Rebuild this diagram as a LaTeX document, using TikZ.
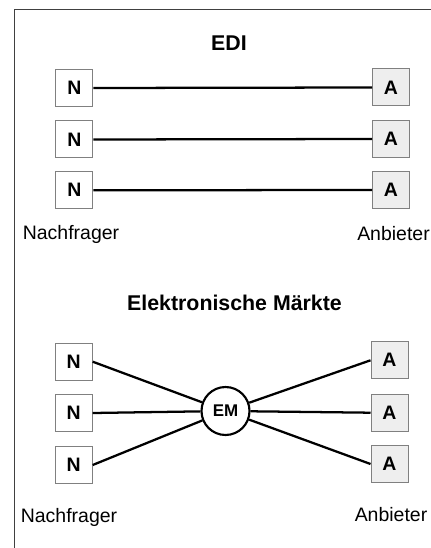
\documentclass[tikz,border=0pt]{standalone}
\usepackage{fontspec}
\setmainfont{Liberation Sans}
\usepackage{xcolor}
\definecolor{boxgray}{HTML}{808080}
\definecolor{afill}{HTML}{EEEEEE}
\definecolor{framegray}{HTML}{404040}

\tikzset{
  nbox/.style={draw=boxgray,line width=0.75pt,fill=white,minimum size=27.75pt,inner sep=0pt,font=\fontsize{14.6pt}{17pt}\selectfont\bfseries},
  abox/.style={nbox,fill=afill},
  emcircle/.style={draw,circle,line width=1.6pt,minimum size=36pt,inner sep=0pt,font=\fontsize{12.7pt}{15pt}\selectfont\bfseries},
  titletext/.style={inner sep=0.75pt,font=\fontsize{16pt}{19pt}\selectfont\bfseries},
  roletext/.style={inner sep=0.75pt,font=\fontsize{14.6pt}{17pt}\selectfont},
  link/.style={line width=1.7pt}
}

\begin{document}
\begin{tikzpicture}[x=0.75pt,y=0.75pt,yscale=-1,xscale=1]
\useasboundingbox (0,0) rectangle (430,548);

%Shape: Frame
\draw [color=framegray,line width=0.75pt] (14.5,9.5) rectangle (445,560);

% Text Node
\draw (229,43) node [titletext] (edi) {EDI};

% Boxes EDI
\node [nbox] (n1) at (74.3,88) {N};
\node [nbox] (n2) at (74.3,139.5) {N};
\node [nbox] (n3) at (74.3,190.3) {N};
\node [abox] (a1) at (391,87.5) {A};
\node [abox] (a2) at (391,139) {A};
\node [abox] (a3) at (391,190) {A};

%Straight Lines
\draw [link] (n1.east) -- (a1.west);
\draw [link] (n2.east) -- (a2.west);
\draw [link] (n3.east) -- (a3.west);

% Text Node
\draw (71,234) node [roletext] (nf1) {Nachfrager};
% Text Node
\draw (393.5,234) node [roletext] (ab1) {Anbieter};

% Text Node
\draw (234.5,303) node [titletext] (emt) {Elektronische Märkte};

% Boxes Elektronische Maerkte
\node [nbox] (n4) at (73.7,361.7) {N};
\node [nbox] (n5) at (73.7,413) {N};
\node [nbox] (n6) at (73.7,465) {N};
\node [abox] (a4) at (389.5,360.3) {A};
\node [abox] (a5) at (389.5,412.7) {A};
\node [abox] (a6) at (389.5,464) {A};
\node [emcircle] (em) at (225.5,411) {EM};

%Straight Lines
\draw [link] (n4.east) -- (em);
\draw [link] (n5.east) -- (em);
\draw [link] (n6.east) -- (em);
\draw [link] (em) -- (a4.west);
\draw [link] (em) -- (a5.west);
\draw [link] (em) -- (a6.west);

% Text Node
\draw (69,517) node [roletext] (nf2) {Nachfrager};
% Text Node
\draw (391,515) node [roletext] (ab2) {Anbieter};

\end{tikzpicture}
\end{document}
